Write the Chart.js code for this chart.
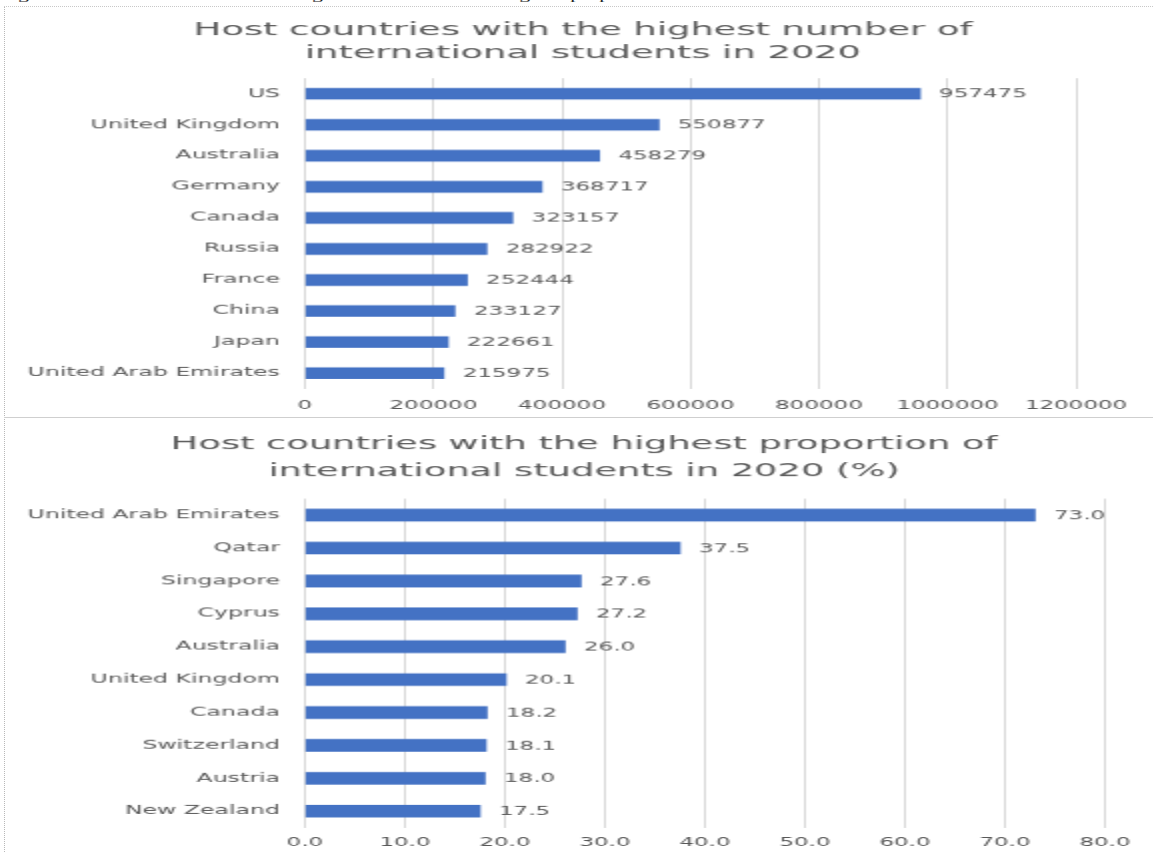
<!DOCTYPE html>
<html>
<head>
<meta charset="utf-8">
<script src="https://cdn.jsdelivr.net/npm/chart.js@4.4.1/dist/chart.umd.min.js"></script>
<style>
  html, body { margin: 0; padding: 0; background: #fff; overflow: hidden; }
  body { width: 1153px; height: 852px; position: relative; }
  .wide { position: absolute; left: 0; width: 577px; transform: scaleX(2); transform-origin: 0 0; }
  #caption { top: -9px; height: 12px; font: 10.8px "Liberation Serif", serif; line-height: 10px; color: #222; white-space: nowrap; }
  #topBox { top: 6px; height: 423.5px; }
  #bottomBox { top: 418px; height: 444.5px; }
  .frame { position: absolute; left: 4px; top: 6px; right: 0; bottom: 0; border-left: 1px dotted #b8b8b8; border-top: 1px dotted #c8c8c8; }
  .divider { position: absolute; left: 4px; right: 0; top: 417px; border-top: 1px solid #cfcfcf; }
</style>
</head>
<body>
<div id="caption" class="wide">Figure 30 Host countries with the highest number and the highest proportion of international students in 2020</div>
<div class="frame"></div>
<div class="divider"></div>
<div id="topBox" class="wide"><canvas id="numberChart"></canvas></div>
<div id="bottomBox" class="wide"><canvas id="shareChart"></canvas></div>
<script>
// number of international students, 2020
var countryNames = ['US', 'United Kingdom', 'Australia', 'Germany', 'Canada', 'Russia', 'France', 'China', 'Japan', 'United Arab Emirates'];
var studentCounts = [957475, 550877, 458279, 368717, 323157, 282922, 252444, 233127, 222661, 215975];
var countTicks = { min: 0, max: 1200000, step: 200000 };

// share of international students, 2020 (%)
var shareNames = ['United Arab Emirates', 'Qatar', 'Singapore', 'Cyprus', 'Australia', 'United Kingdom', 'Canada', 'Switzerland', 'Austria', 'New Zealand'];
var sharePercents = [73.0, 37.5, 27.6, 27.2, 26.0, 20.1, 18.2, 18.1, 18.0, 17.5];
var shareTicks = { min: 0, max: 80, step: 10 };

var FONT = '"DejaVu Sans", sans-serif';
var TEXT = '#595959';
var BAR = '#4472C4';
var PLOT_LEFT = 152.5;

// writes each bar's value just past its end
function valueLabels(format) {
  return {
    id: 'valueLabels',
    afterDatasetsDraw: function (chart) {
      var ctx = chart.ctx;
      var values = chart.data.datasets[0].data;
      ctx.save();
      ctx.font = '11.5px ' + FONT;
      ctx.fillStyle = TEXT;
      ctx.textAlign = 'left';
      ctx.textBaseline = 'middle';
      chart.getDatasetMeta(0).data.forEach(function (bar, i) {
        ctx.fillText(format(values[i]), bar.x + 9.5, bar.y + 1);
      });
      ctx.restore();
    }
  };
}

// two-line heading, centred on the whole panel rather than the plot area
function heading(lines, centreX, firstY, gap) {
  return {
    id: 'heading',
    afterDraw: function (chart) {
      var ctx = chart.ctx;
      ctx.save();
      ctx.font = '18.4px ' + FONT;
      ctx.fillStyle = TEXT;
      ctx.textAlign = 'center';
      ctx.textBaseline = 'middle';
      lines.forEach(function (line, i) {
        ctx.fillText(line, centreX, firstY + i * gap);
      });
      ctx.restore();
    }
  };
}

function hostChart(canvasId, title, labels, values, ticks, format, look) {
  return new Chart(document.getElementById(canvasId), {
    type: 'bar',
    data: {
      labels: labels,
      datasets: [{ data: values, backgroundColor: BAR, barThickness: look.bar, borderWidth: 0 }]
    },
    options: {
      indexAxis: 'y',
      responsive: true,
      maintainAspectRatio: false,
      animation: false,
      layout: { padding: { left: 0, right: look.right, top: look.top, bottom: look.bottom } },
      plugins: {
        legend: { display: false },
        tooltip: { enabled: false },
        title: { display: false }
      },
      scales: {
        x: {
          min: ticks.min,
          max: ticks.max,
          grid: { color: '#d9d9d9', lineWidth: 1, drawTicks: false },
          border: { display: false },
          ticks: {
            stepSize: ticks.step,
            color: TEXT,
            padding: look.tickPad,
            font: { family: FONT, size: 11.5, lineHeight: 1.2 },
            callback: function (v) { return format(v); }
          }
        },
        y: {
          grid: { display: false, drawTicks: false },
          border: { display: false },
          ticks: { color: TEXT, padding: 12.5, font: { family: FONT, size: 11.8 } },
          afterFit: function (scale) { scale.width = PLOT_LEFT; }
        }
      }
    },
    plugins: [valueLabels(format), heading(title, look.titleX, look.titleY, look.titleGap)]
  });
}

hostChart('numberChart',
  ['Host countries with the highest number of', 'international students in 2020'],
  countryNames, studentCounts, countTicks,
  function (v) { return String(v); },
  { bar: 11, right: 39, top: 72, bottom: 7, titleX: 291.5, titleY: 24, titleGap: 23, tickPad: 10.5 });

hostChart('shareChart',
  ['Host countries with the highest proportion of', 'international students in 2020 (%)'],
  shareNames, sharePercents, shareTicks,
  function (v) { return Number(v).toFixed(1); },
  { bar: 12, right: 24.5, top: 80.5, bottom: 5, titleX: 292, titleY: 26, titleGap: 27, tickPad: 8.5 });
</script>
</body>
</html>
